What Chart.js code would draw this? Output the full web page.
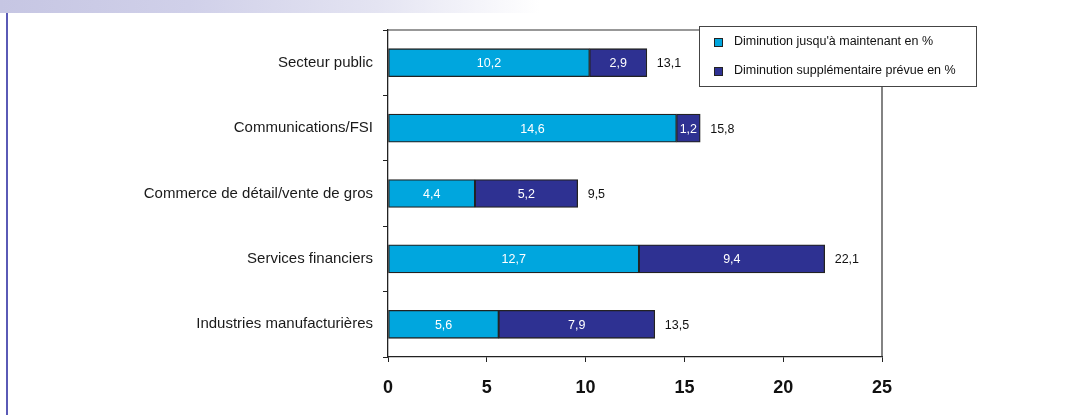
<!DOCTYPE html>
<html>
<head>
<meta charset="utf-8">
<script src="https://cdn.jsdelivr.net/npm/chart.js@4/dist/chart.umd.min.js"></script>
<style>
  html, body { margin: 0; padding: 0; background: #fff; }
  #wrap { position: relative; width: 1092px; height: 415px; overflow: hidden; }
  #band { position: absolute; left: 0; top: 0; width: 540px; height: 13px;
          background: linear-gradient(to right, #c6c6e3 0%, #d0d0e9 35%, #e4e4f2 70%, #ffffff 100%); }
  #vline { position: absolute; left: 6px; top: 13px; width: 2px; height: 402px; background: #5a5ab6; }
  canvas { position: absolute; left: 0; top: 0; }
</style>
</head>
<body>
<div id="wrap">
  <div id="band"></div>
  <div id="vline"></div>
  <canvas id="c" width="1092" height="415"></canvas>
</div>
<script>
const categories = ["Secteur public", "Communications/FSI", "Commerce de détail/vente de gros", "Services financiers", "Industries manufacturières"];
const seriesNames = ["Diminution jusqu'à maintenant en %", "Diminution supplémentaire prévue en %"];
const soFar = [10.2, 14.6, 4.4, 12.7, 5.6];
const planned = [2.9, 1.2, 5.2, 9.4, 7.9];
const totals = [13.1, 15.8, 9.5, 22.1, 13.5];
const xTicks = [0, 5, 10, 15, 20, 25];

const colors = ["#00a6de", "#2e3192"];
const FONT = "'Liberation Sans', Arial, sans-serif";
const fmt = v => v.toFixed(1).replace('.', ',');

const labelsPlugin = {
  id: 'barLabels',
  afterDatasetsDraw(chart) {
    const ctx = chart.ctx;
    ctx.save();
    ctx.font = "12.5px " + FONT;
    ctx.textBaseline = 'middle';
    chart.data.datasets.forEach((ds, di) => {
      const meta = chart.getDatasetMeta(di);
      meta.data.forEach((el, i) => {
        ctx.fillStyle = '#ffffff';
        ctx.textAlign = 'center';
        ctx.fillText(fmt(ds.data[i]), (el.x + el.base) / 2, el.y + 1);
        if (di === chart.data.datasets.length - 1) {
          ctx.fillStyle = '#111';
          ctx.textAlign = 'left';
          ctx.fillText(fmt(totals[i]), el.x + 10, el.y + 1);
        }
      });
    });
    ctx.restore();
  }
};

const framePlugin = {
  id: 'frame',
  afterDraw(chart) {
    const ctx = chart.ctx, a = chart.chartArea;
    ctx.save();
    ctx.strokeStyle = '#333';
    ctx.lineWidth = 1.2;
    ctx.beginPath();
    ctx.moveTo(a.left, a.top);
    ctx.lineTo(a.right, a.top);
    ctx.lineTo(a.right, a.bottom);
    ctx.stroke();
    // legend box
    const lx = a.right - 183, ly = a.top - 4, lw = 277, lh = 60;
    ctx.fillStyle = '#fff';
    ctx.fillRect(lx, ly, lw, lh);
    ctx.strokeStyle = '#444';
    ctx.lineWidth = 1;
    ctx.strokeRect(lx + 0.5, ly + 0.5, lw, lh);
    ctx.font = "12.5px " + FONT;
    ctx.textBaseline = 'middle';
    ctx.textAlign = 'left';
    chart.data.datasets.forEach((ds, i) => {
      const y = ly + 16 + i * 29;
      ctx.fillStyle = ds.backgroundColor;
      ctx.fillRect(lx + 15, y - 4, 9, 9);
      ctx.strokeStyle = '#222';
      ctx.lineWidth = 1;
      ctx.strokeRect(lx + 15.5, y - 3.5, 8, 8);
      ctx.fillStyle = '#111';
      ctx.fillText(ds.label, lx + 35, y);
    });
    ctx.restore();
  }
};

new Chart(document.getElementById('c'), {
  type: 'bar',
  data: {
    labels: categories,
    datasets: [
      { label: seriesNames[0], data: soFar, backgroundColor: colors[0], borderColor: '#222', borderWidth: 1.3, borderSkipped: false, barThickness: 28 },
      { label: seriesNames[1], data: planned, backgroundColor: colors[1], borderColor: '#222', borderWidth: 1.3, borderSkipped: false, barThickness: 28 }
    ]
  },
  options: {
    indexAxis: 'y',
    responsive: false,
    animation: false,
    layout: { padding: { left: 0, right: 210, top: 30, bottom: 0 } },
    plugins: { legend: { display: false }, tooltip: { enabled: false } },
    scales: {
      x: {
        stacked: true,
        min: 0, max: 25,
        afterBuildTicks: s => { s.ticks = xTicks.map(v => ({ value: v })); },
        afterFit: s => { s.height = 58; },
        ticks: { color: '#111', font: { family: FONT, size: 18, weight: 'bold' }, padding: 15 },
        grid: { drawOnChartArea: false, color: '#222', tickLength: 5, tickWidth: 1 },
        border: { color: '#222', width: 1.3 }
      },
      y: {
        stacked: true,
        afterFit: s => { s.width = 388; },
        ticks: { color: '#1a1a1a', font: { family: FONT, size: 15 }, padding: 10 },
        grid: { drawOnChartArea: false, offset: true, color: '#222', tickLength: 5, tickWidth: 1 },
        border: { color: '#222', width: 1.3 }
      }
    }
  },
  plugins: [labelsPlugin, framePlugin]
});
</script>
</body>
</html>
